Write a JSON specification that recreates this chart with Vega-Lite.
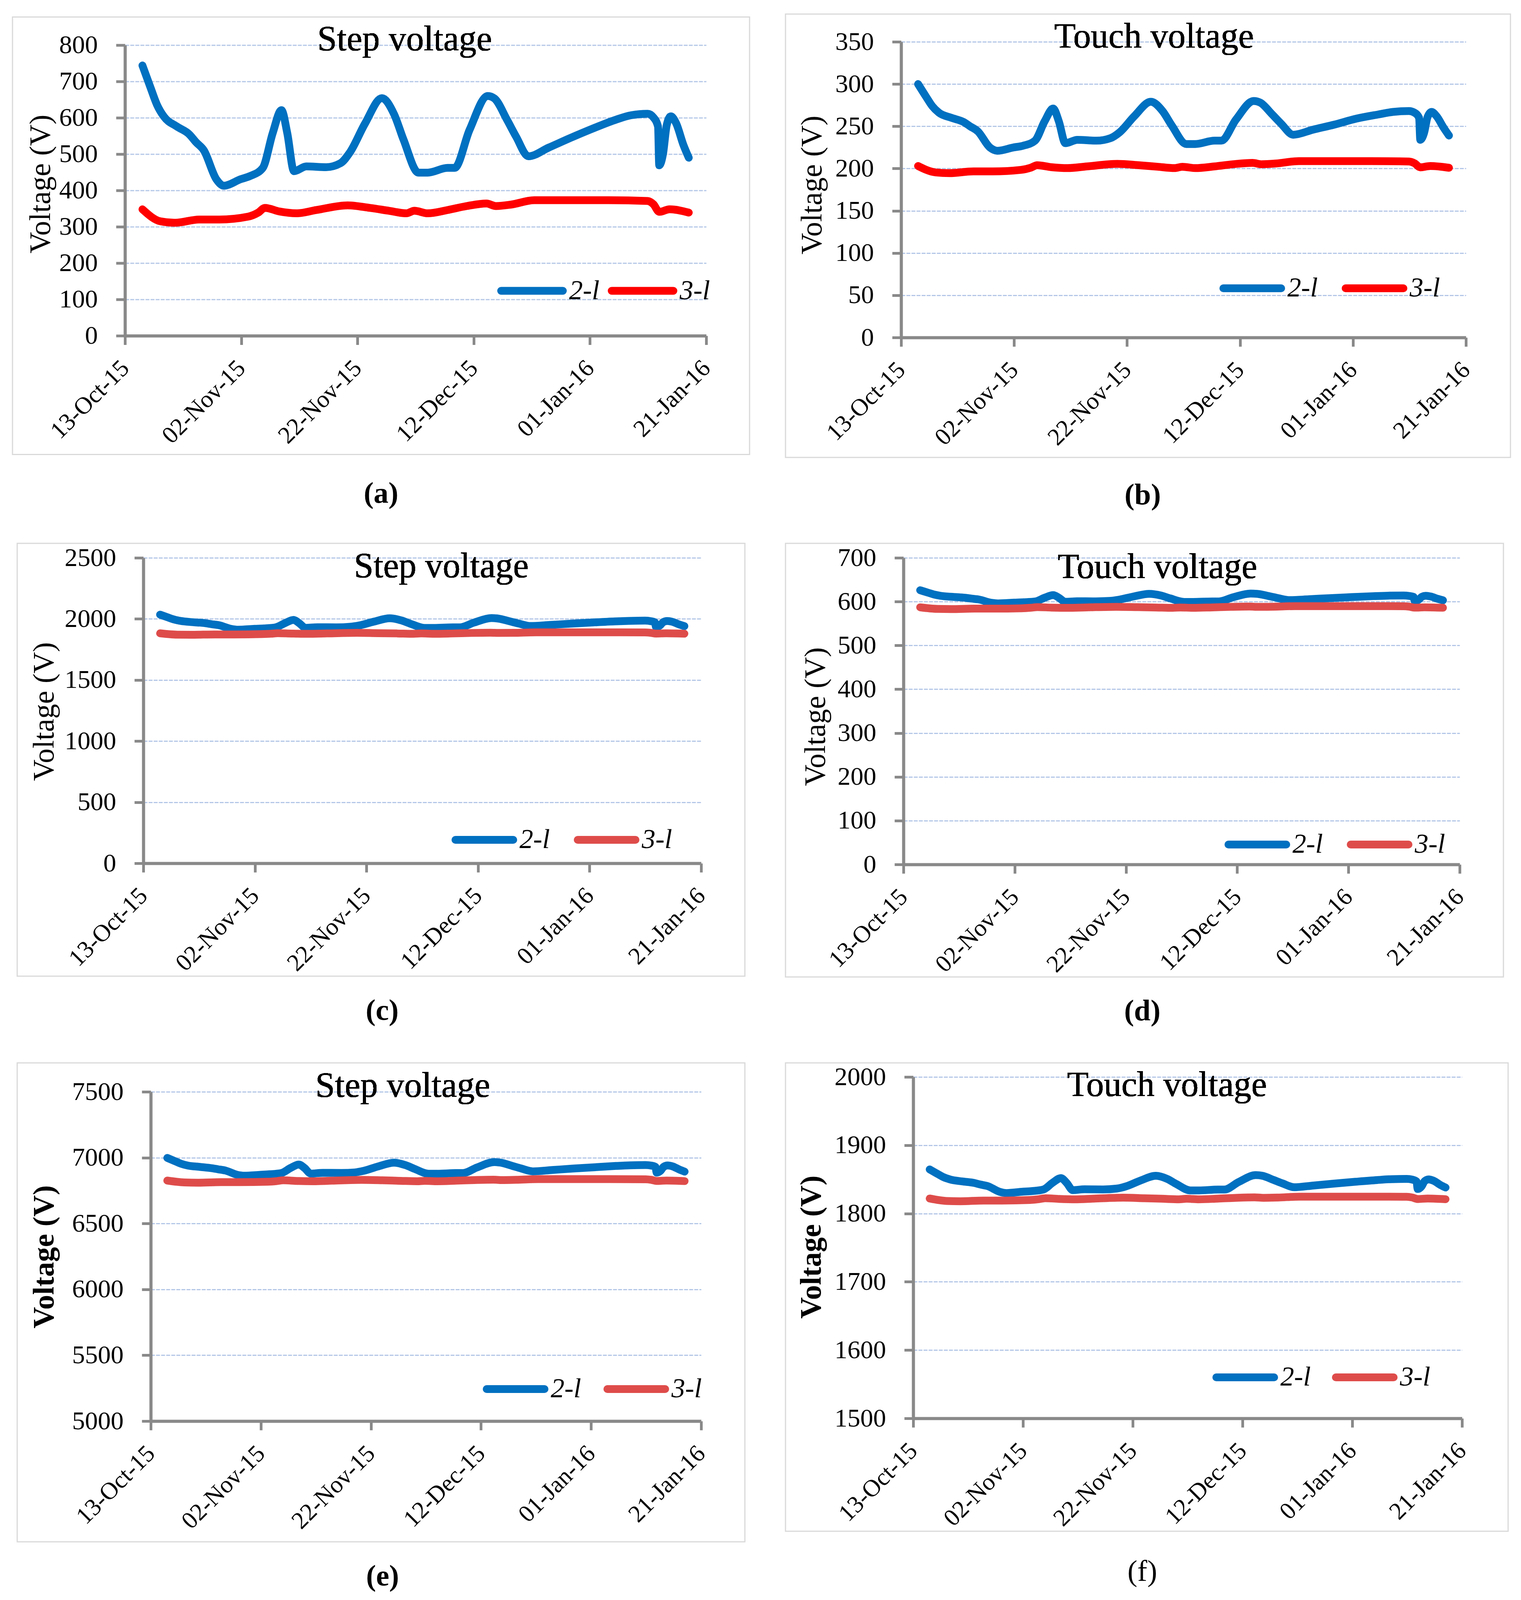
{
"$schema": "https://vega.github.io/schema/vega-lite/v6.json",
"background": "white",
"padding": {"left": 30, "top": 34, "right": 0, "bottom": 0},
"columns": 2,
"spacing": {"row": 220, "column": 92},
"bounds": "flush",
"center": true,
"align": "each",
"resolve": {"scale": {"color": "independent"}, "legend": {"color": "independent"}},
"datasets": {
"v": [
{"t":"2015-10-16T00:00","s":"2-l","a":744,"b":300,"c":2035,"d":626,"e":6998,"f":1864.6},
{"t":"2015-10-17T10:00","s":"2-l","a":682,"b":285,"c":2012,"d":620.4,"e":6973,"f":1858.1},
{"t":"2015-10-18T12:00","s":"2-l","a":636,"b":274,"c":1995,"d":616.2,"e":6954,"f":1853.3},
{"t":"2015-10-19T17:00","s":"2-l","a":603,"b":266,"c":1983,"d":613.2,"e":6940,"f":1849.9},
{"t":"2015-10-21T22:00","s":"2-l","a":576,"b":260,"c":1973,"d":610.8,"e":6930,"f":1847.0},
{"t":"2015-10-24T02:00","s":"2-l","a":554,"b":255,"c":1965,"d":608.8,"e":6920,"f":1844.8},
{"t":"2015-10-25T05:00","s":"2-l","a":533,"b":250,"c":1957,"d":606.9,"e":6912,"f":1842.5},
{"t":"2015-10-26T14:00","s":"2-l","a":510,"b":244,"c":1948,"d":604.8,"e":6902,"f":1840.1},
{"t":"2015-10-28T17:00","s":"2-l","a":431,"b":225,"c":1919,"d":597.6,"e":6870,"f":1831.9},
{"t":"2015-10-30T00:00","s":"2-l","a":413,"b":221,"c":1912,"d":596.0,"e":6863,"f":1830.0},
{"t":"2015-11-01T22:00","s":"2-l","a":431,"b":225,"c":1919,"d":597.6,"e":6870,"f":1831.9},
{"t":"2015-11-03T14:00","s":"2-l","a":440,"b":227,"c":1922,"d":598.5,"e":6874,"f":1832.8},
{"t":"2015-11-05T17:00","s":"2-l","a":462,"b":233,"c":1931,"d":600.4,"e":6883,"f":1835.1},
{"t":"2015-11-07T10:00","s":"2-l","a":558,"b":256,"c":1966,"d":609.1,"e":6922,"f":1845.2},
{"t":"2015-11-08T22:00","s":"2-l","a":621,"b":271,"c":1992,"d":614.9,"e":6948,"f":1851.9},
{"t":"2015-11-09T22:00","s":"2-l","a":558,"b":256,"c":1966,"d":609.1,"e":6922,"f":1845.2},
{"t":"2015-11-11T02:00","s":"2-l","a":453,"b":230,"c":1927,"d":599.6,"e":6879,"f":1834.2},
{"t":"2015-11-13T05:00","s":"2-l","a":466,"b":234,"c":1932,"d":600.8,"e":6885,"f":1835.5},
{"t":"2015-11-16T14:00","s":"2-l","a":464,"b":233,"c":1931,"d":600.6,"e":6884,"f":1835.3},
{"t":"2015-11-19T02:00","s":"2-l","a":475,"b":236,"c":1936,"d":601.6,"e":6888,"f":1836.5},
{"t":"2015-11-20T17:00","s":"2-l","a":505,"b":243,"c":1947,"d":604.3,"e":6900,"f":1839.6},
{"t":"2015-11-23T07:00","s":"2-l","a":584,"b":262,"c":1977,"d":611.5,"e":6933,"f":1847.9},
{"t":"2015-11-26T05:00","s":"2-l","a":654,"b":279,"c":2005,"d":617.8,"e":6962,"f":1855.2},
{"t":"2015-11-28T07:00","s":"2-l","a":610,"b":268,"c":1987,"d":613.9,"e":6943,"f":1850.6},
{"t":"2015-11-29T22:00","s":"2-l","a":540,"b":251,"c":1960,"d":607.5,"e":6915,"f":1843.3},
{"t":"2015-12-02T12:00","s":"2-l","a":449,"b":229,"c":1926,"d":599.3,"e":6878,"f":1833.8},
{"t":"2015-12-04T02:00","s":"2-l","a":449,"b":229,"c":1926,"d":599.3,"e":6878,"f":1833.8},
{"t":"2015-12-07T12:00","s":"2-l","a":462,"b":233,"c":1931,"d":600.4,"e":6883,"f":1835.1},
{"t":"2015-12-08T17:00","s":"2-l","a":462,"b":233,"c":1931,"d":600.4,"e":6883,"f":1835.1},
{"t":"2015-12-11T07:00","s":"2-l","a":567,"b":258,"c":1970,"d":610.0,"e":6926,"f":1846.1},
{"t":"2015-12-14T10:00","s":"2-l","a":660,"b":280,"c":2007,"d":618.4,"e":6966,"f":1856.2},
{"t":"2015-12-15T14:00","s":"2-l","a":653,"b":278,"c":2003,"d":617.8,"e":6962,"f":1855.3},
{"t":"2015-12-17T17:00","s":"2-l","a":595,"b":264,"c":1980,"d":612.5,"e":6937,"f":1849.0},
{"t":"2015-12-19T07:00","s":"2-l","a":548,"b":253,"c":1962,"d":608.2,"e":6918,"f":1844.1},
{"t":"2015-12-21T10:00","s":"2-l","a":494,"b":240,"c":1942,"d":603.4,"e":6896,"f":1838.5},
{"t":"2015-12-24T22:00","s":"2-l","a":518,"b":246,"c":1951,"d":605.5,"e":6906,"f":1841.0},
{"t":"2015-12-28T17:00","s":"2-l","a":545,"b":252,"c":1961,"d":608.0,"e":6917,"f":1843.8},
{"t":"2016-01-01T14:00","s":"2-l","a":571,"b":259,"c":1971,"d":610.3,"e":6927,"f":1846.5},
{"t":"2016-01-05T12:00","s":"2-l","a":595,"b":264,"c":1980,"d":612.5,"e":6937,"f":1849.0},
{"t":"2016-01-08T02:00","s":"2-l","a":607,"b":267,"c":1984,"d":613.6,"e":6942,"f":1850.3},
{"t":"2016-01-10T22:00","s":"2-l","a":611,"b":268,"c":1986,"d":614.0,"e":6944,"f":1850.7},
{"t":"2016-01-11T22:00","s":"2-l","a":601,"b":266,"c":1982,"d":613.0,"e":6940,"f":1849.7},
{"t":"2016-01-12T17:00","s":"2-l","a":576,"b":260,"c":1973,"d":610.8,"e":6930,"f":1847.0},
{"t":"2016-01-12T22:00","s":"2-l","a":469,"b":234,"c":1933,"d":601.1,"e":6886,"f":1835.9},
{"t":"2016-01-13T14:00","s":"2-l","a":502,"b":242,"c":1945,"d":604.1,"e":6899,"f":1839.3},
{"t":"2016-01-14T05:00","s":"2-l","a":580,"b":261,"c":1974,"d":611.1,"e":6931,"f":1847.5},
{"t":"2016-01-14T22:00","s":"2-l","a":604,"b":267,"c":1983,"d":613.3,"e":6941,"f":1850.0},
{"t":"2016-01-15T19:00","s":"2-l","a":586,"b":262,"c":1977,"d":611.7,"e":6934,"f":1848.1},
{"t":"2016-01-17T02:00","s":"2-l","a":525,"b":248,"c":1954,"d":606.2,"e":6909,"f":1841.7},
{"t":"2016-01-18T00:00","s":"2-l","a":490,"b":239,"c":1941,"d":603.0,"e":6894,"f":1838.1},
{"t":"2015-10-16T00:00","s":"3-l","a":348,"b":203.0,"c":1882,"d":587.0,"e":6826,"f":1822.0},
{"t":"2015-10-19T02:00","s":"3-l","a":315,"b":195.4,"c":1871,"d":583.4,"e":6812,"f":1818.4},
{"t":"2015-10-21T14:00","s":"3-l","a":311,"b":194.5,"c":1870,"d":583.0,"e":6810,"f":1818.0},
{"t":"2015-10-25T19:00","s":"3-l","a":320,"b":196.6,"c":1873,"d":584.0,"e":6814,"f":1819.0},
{"t":"2015-10-29T05:00","s":"3-l","a":320,"b":196.6,"c":1873,"d":584.0,"e":6814,"f":1819.0},
{"t":"2015-11-03T05:00","s":"3-l","a":328,"b":198.4,"c":1876,"d":584.8,"e":6817,"f":1819.8},
{"t":"2015-11-04T22:00","s":"3-l","a":339,"b":200.9,"c":1879,"d":586.0,"e":6822,"f":1821.0},
{"t":"2015-11-06T02:00","s":"3-l","a":352,"b":203.9,"c":1883,"d":587.4,"e":6828,"f":1822.4},
{"t":"2015-11-08T14:00","s":"3-l","a":342,"b":201.6,"c":1880,"d":586.4,"e":6823,"f":1821.4},
{"t":"2015-11-11T12:00","s":"3-l","a":337,"b":200.5,"c":1878,"d":585.8,"e":6821,"f":1820.8},
{"t":"2015-11-14T22:00","s":"3-l","a":346,"b":202.5,"c":1881,"d":586.8,"e":6825,"f":1821.8},
{"t":"2015-11-20T07:00","s":"3-l","a":359,"b":205.5,"c":1886,"d":588.2,"e":6831,"f":1823.2},
{"t":"2015-11-24T02:00","s":"3-l","a":352,"b":203.9,"c":1883,"d":587.4,"e":6828,"f":1822.4},
{"t":"2015-11-27T10:00","s":"3-l","a":344,"b":202.1,"c":1881,"d":586.6,"e":6824,"f":1821.6},
{"t":"2015-11-30T10:00","s":"3-l","a":337,"b":200.5,"c":1878,"d":585.8,"e":6821,"f":1820.8},
{"t":"2015-12-01T19:00","s":"3-l","a":344,"b":202.1,"c":1881,"d":586.6,"e":6824,"f":1821.6},
{"t":"2015-12-04T02:00","s":"3-l","a":337,"b":200.5,"c":1878,"d":585.8,"e":6821,"f":1820.8},
{"t":"2015-12-07T12:00","s":"3-l","a":346,"b":202.5,"c":1881,"d":586.8,"e":6825,"f":1821.8},
{"t":"2015-12-10T19:00","s":"3-l","a":357,"b":205.1,"c":1885,"d":588.0,"e":6830,"f":1823.0},
{"t":"2015-12-14T05:00","s":"3-l","a":364,"b":206.7,"c":1887,"d":588.7,"e":6833,"f":1823.7},
{"t":"2015-12-15T19:00","s":"3-l","a":357,"b":205.1,"c":1885,"d":588.0,"e":6830,"f":1823.0},
{"t":"2015-12-18T10:00","s":"3-l","a":361,"b":206.0,"c":1886,"d":588.4,"e":6832,"f":1823.4},
{"t":"2015-12-22T10:00","s":"3-l","a":373,"b":208.8,"c":1890,"d":589.7,"e":6837,"f":1824.7},
{"t":"2016-01-04T05:00","s":"3-l","a":373,"b":208.8,"c":1890,"d":589.7,"e":6837,"f":1824.7},
{"t":"2016-01-10T22:00","s":"3-l","a":371,"b":208.3,"c":1889,"d":589.5,"e":6836,"f":1824.5},
{"t":"2016-01-11T22:00","s":"3-l","a":362,"b":206.2,"c":1886,"d":588.5,"e":6832,"f":1823.5},
{"t":"2016-01-12T22:00","s":"3-l","a":341,"b":201.4,"c":1880,"d":586.2,"e":6823,"f":1821.2},
{"t":"2016-01-14T17:00","s":"3-l","a":348,"b":203.0,"c":1882,"d":587.0,"e":6826,"f":1822.0},
{"t":"2016-01-18T00:00","s":"3-l","a":339,"b":200.9,"c":1879,"d":586.0,"e":6822,"f":1821.0}
]
},
"concat": [
{"width": 1887, "height": 1120, "data": {"name": "v"},
"layer": [
{"mark": {"type": "line", "strokeWidth": 20, "strokeCap": "round", "strokeJoin": "round", "interpolate": "monotone"},
"encoding": {
"x": {"field": "t", "type": "temporal", "scale": {"domain": [{"year":2015,"month":10,"date":13},{"year":2016,"month":1,"date":21}], "range": [288, 1776]},
"axis": {"values": [{"year":2015,"month":10,"date":13},{"year":2015,"month":11,"date":2},{"year":2015,"month":11,"date":22},{"year":2015,"month":12,"date":12},{"year":2016,"month":1,"date":1},{"year":2016,"month":1,"date":21}], "format": "%d-%b-%y", "offset": -304, "title": "(a)", "titleX": 943, "titleY": 427, "titleFontWeight": "bold"}},
"y": {"field": "a", "type": "quantitative", "scale": {"domain": [0, 800], "range": [816, 72], "nice": false},
"axis": {"values": [0,100,200,300,400,500,600,700,800], "format": "d", "offset": -288, "title": "Voltage (V)", "titleX": -216, "titleY": 427}},
"color": {"field": "s", "type": "nominal", "scale": {"domain": ["2-l","3-l"], "range": ["#0070C0","#FF0000"]},
"legend": {"title": null, "legendX": 1241, "legendY": 612, "symbolSize": 24964, "labelOffset": 6, "columnPadding": -9, "encode": {"symbols": {"update": {"strokeCap": {"value": "round"}}}}}}
}},
{"mark": {"type": "text", "text": "Step voltage", "fontSize": 90, "align": "center", "baseline": "alphabetic", "font": "Liberation Serif", "color": "#000000"},
"encoding": {"x": {"datum": {"year":2015,"month":11,"date":30,"hours":3}}, "y": {"datum": 785.4}}}
]},
{"width": 1856, "height": 1135, "data": {"name": "v"},
"layer": [
{"mark": {"type": "line", "strokeWidth": 20, "strokeCap": "round", "strokeJoin": "round", "interpolate": "monotone"},
"encoding": {
"x": {"field": "t", "type": "temporal", "scale": {"domain": [{"year":2015,"month":10,"date":13},{"year":2016,"month":1,"date":21}], "range": [296, 1742]},
"axis": {"values": [{"year":2015,"month":10,"date":13},{"year":2015,"month":11,"date":2},{"year":2015,"month":11,"date":22},{"year":2015,"month":12,"date":12},{"year":2016,"month":1,"date":1},{"year":2016,"month":1,"date":21}], "format": "%d-%b-%y", "offset": -307, "title": "(b)", "titleX": 914, "titleY": 426, "titleFontWeight": "bold"}},
"y": {"field": "b", "type": "quantitative", "scale": {"domain": [0, 350], "range": [828, 71], "nice": false},
"axis": {"values": [0,50,100,150,200,250,300,350], "format": "d", "offset": -296, "title": "Voltage (V)", "titleX": -228, "titleY": 437}},
"color": {"field": "s", "type": "nominal", "scale": {"domain": ["2-l","3-l"], "range": ["#0070C0","#FF0000"]},
"legend": {"title": null, "legendX": 1111, "legendY": 618, "symbolSize": 21904, "labelOffset": 6, "columnPadding": 31, "encode": {"symbols": {"update": {"strokeCap": {"value": "round"}}}}}}
}},
{"mark": {"type": "text", "text": "Touch voltage", "fontSize": 90, "align": "center", "baseline": "alphabetic", "font": "Liberation Serif", "color": "#000000"},
"encoding": {"x": {"datum": {"year":2015,"month":11,"date":26,"hours":19}}, "y": {"datum": 342.9}}}
]},
{"width": 1863, "height": 1108, "data": {"name": "v"},
"layer": [
{"mark": {"type": "line", "strokeWidth": 20, "strokeCap": "round", "strokeJoin": "round", "interpolate": "monotone"},
"encoding": {
"x": {"field": "t", "type": "temporal", "scale": {"domain": [{"year":2015,"month":10,"date":13},{"year":2016,"month":1,"date":21}], "range": [323, 1751]},
"axis": {"values": [{"year":2015,"month":10,"date":13},{"year":2015,"month":11,"date":2},{"year":2015,"month":11,"date":22},{"year":2015,"month":12,"date":12},{"year":2016,"month":1,"date":1},{"year":2016,"month":1,"date":21}], "format": "%d-%b-%y", "offset": -289, "title": "(c)", "titleX": 934, "titleY": 400, "titleFontWeight": "bold"}},
"y": {"field": "c", "type": "quantitative", "scale": {"domain": [0, 2500], "range": [819, 37], "nice": false},
"axis": {"values": [0,500,1000,1500,2000,2500], "format": "d", "offset": -323, "title": "Voltage (V)", "titleX": -254, "titleY": 430}},
"color": {"field": "s", "type": "nominal", "scale": {"domain": ["2-l","3-l"], "range": ["#0070C0","#DE4C4A"]},
"legend": {"title": null, "legendX": 1112, "legendY": 675, "symbolSize": 21904, "labelOffset": 6, "columnPadding": 31, "encode": {"symbols": {"update": {"strokeCap": {"value": "round"}}}}}}
}},
{"mark": {"type": "text", "text": "Step voltage", "fontSize": 90, "align": "center", "baseline": "alphabetic", "font": "Liberation Serif", "color": "#000000"},
"encoding": {"x": {"datum": {"year":2015,"month":12,"date":5,"hours":10}}, "y": {"datum": 2340}}}
]},
{"width": 1838, "height": 1110, "data": {"name": "v"},
"layer": [
{"mark": {"type": "line", "strokeWidth": 20, "strokeCap": "round", "strokeJoin": "round", "interpolate": "monotone"},
"encoding": {
"x": {"field": "t", "type": "temporal", "scale": {"domain": [{"year":2015,"month":10,"date":13},{"year":2016,"month":1,"date":21}], "range": [302, 1726]},
"axis": {"values": [{"year":2015,"month":10,"date":13},{"year":2015,"month":11,"date":2},{"year":2015,"month":11,"date":22},{"year":2015,"month":12,"date":12},{"year":2016,"month":1,"date":1},{"year":2016,"month":1,"date":21}], "format": "%d-%b-%y", "offset": -288, "title": "(d)", "titleX": 913, "titleY": 398, "titleFontWeight": "bold"}},
"y": {"field": "d", "type": "quantitative", "scale": {"domain": [0, 700], "range": [822, 37], "nice": false},
"axis": {"values": [0,100,200,300,400,500,600,700], "format": "d", "offset": -302, "title": "Voltage (V)", "titleX": -225, "titleY": 443}},
"color": {"field": "s", "type": "nominal", "scale": {"domain": ["2-l","3-l"], "range": ["#0070C0","#DE4C4A"]},
"legend": {"title": null, "legendX": 1124, "legendY": 687, "symbolSize": 21904, "labelOffset": 6, "columnPadding": 31, "encode": {"symbols": {"update": {"strokeCap": {"value": "round"}}}}}}
}},
{"mark": {"type": "text", "text": "Touch voltage", "fontSize": 90, "align": "center", "baseline": "alphabetic", "font": "Liberation Serif", "color": "#000000"},
"encoding": {"x": {"datum": {"year":2015,"month":11,"date":27,"hours":16}}, "y": {"datum": 653.8}}}
]},
{"width": 1863, "height": 1226, "data": {"name": "v"},
"layer": [
{"mark": {"type": "line", "strokeWidth": 20, "strokeCap": "round", "strokeJoin": "round", "interpolate": "monotone"},
"encoding": {
"x": {"field": "t", "type": "temporal", "scale": {"domain": [{"year":2015,"month":10,"date":13},{"year":2016,"month":1,"date":21}], "range": [342, 1751]},
"axis": {"values": [{"year":2015,"month":10,"date":13},{"year":2015,"month":11,"date":2},{"year":2015,"month":11,"date":22},{"year":2015,"month":12,"date":12},{"year":2016,"month":1,"date":1},{"year":2016,"month":1,"date":21}], "format": "%d-%b-%y", "offset": -309, "title": "(e)", "titleX": 935, "titleY": 420, "titleFontWeight": "bold"}},
"y": {"field": "e", "type": "quantitative", "scale": {"domain": [5000, 7500], "range": [917, 74], "nice": false, "zero": false},
"axis": {"values": [5000,5500,6000,6500,7000,7500], "format": "d", "offset": -342, "title": "Voltage (V)", "titleX": -273, "titleY": 496, "titleFontWeight": "bold"}},
"color": {"field": "s", "type": "nominal", "scale": {"domain": ["2-l","3-l"], "range": ["#0070C0","#DE4C4A"]},
"legend": {"title": null, "legendX": 1192, "legendY": 751, "symbolSize": 21904, "labelOffset": 6, "columnPadding": 27, "encode": {"symbols": {"update": {"strokeCap": {"value": "round"}}}}}}
}},
{"mark": {"type": "text", "text": "Step voltage", "fontSize": 90, "align": "center", "baseline": "alphabetic", "font": "Liberation Serif", "color": "#000000"},
"encoding": {"x": {"datum": {"year":2015,"month":11,"date":27,"hours":19}}, "y": {"datum": 7462}}}
]},
{"width": 1850, "height": 1199, "data": {"name": "v"},
"layer": [
{"mark": {"type": "line", "strokeWidth": 20, "strokeCap": "round", "strokeJoin": "round", "interpolate": "monotone"},
"encoding": {
"x": {"field": "t", "type": "temporal", "scale": {"domain": [{"year":2015,"month":10,"date":13},{"year":2016,"month":1,"date":21}], "range": [327, 1732]},
"axis": {"values": [{"year":2015,"month":10,"date":13},{"year":2015,"month":11,"date":2},{"year":2015,"month":11,"date":22},{"year":2015,"month":12,"date":12},{"year":2016,"month":1,"date":1},{"year":2016,"month":1,"date":21}], "format": "%d-%b-%y", "offset": -289, "title": "(f)", "titleX": 913, "titleY": 415, "titleFontWeight": "normal"}},
"y": {"field": "f", "type": "quantitative", "scale": {"domain": [1500, 2000], "range": [910, 36], "nice": false, "zero": false},
"axis": {"values": [1500,1600,1700,1800,1900,2000], "format": "d", "offset": -327, "title": "Voltage (V)", "titleX": -261, "titleY": 471, "titleFontWeight": "bold"}},
"color": {"field": "s", "type": "nominal", "scale": {"domain": ["2-l","3-l"], "range": ["#0070C0","#DE4C4A"]},
"legend": {"title": null, "legendX": 1093, "legendY": 721, "symbolSize": 21904, "labelOffset": 6, "columnPadding": 24, "encode": {"symbols": {"update": {"strokeCap": {"value": "round"}}}}}}
}},
{"mark": {"type": "text", "text": "Touch voltage", "fontSize": 90, "align": "center", "baseline": "alphabetic", "font": "Liberation Serif", "color": "#000000"},
"encoding": {"x": {"datum": {"year":2015,"month":11,"date":28,"hours":6}}, "y": {"datum": 1971.8}}}
]}
],
"config": {
"view": {"stroke": "#D9D9D9", "strokeWidth": 3},
"font": "Liberation Serif",
"axis": {"domainColor": "#898989", "domainWidth": 8, "tickColor": "#898989", "tickWidth": 7, "tickSize": 23, "labelFont": "Liberation Serif", "labelFontSize": 66, "labelColor": "#000000", "labelLimit": 0, "titleFont": "Liberation Serif", "titleFontSize": 76, "titleColor": "#000000", "titleFontWeight": "normal", "titleLimit": 0, "gridColor": "#B4C7E7", "gridWidth": 3, "gridDash": [10, 3], "labelOverlap": false, "labelFlush": false, "labelBound": false},
"axisX": {"grid": false, "labelAngle": -45, "labelAlign": "right", "labelBaseline": "middle", "labelPadding": 50, "labelFontSize": 62, "titleAngle": 0, "titleAlign": "center", "titleBaseline": "alphabetic"},
"axisY": {"grid": true, "labelPadding": 47, "titleAngle": 270, "titleAlign": "center", "titleBaseline": "middle"},
"legend": {"orient": "none", "direction": "horizontal", "symbolType": "stroke", "symbolStrokeWidth": 20, "labelFont": "Liberation Serif", "labelFontSize": 70, "labelFontStyle": "italic", "labelColor": "#000000", "labelLimit": 0, "padding": 0}
}
}
